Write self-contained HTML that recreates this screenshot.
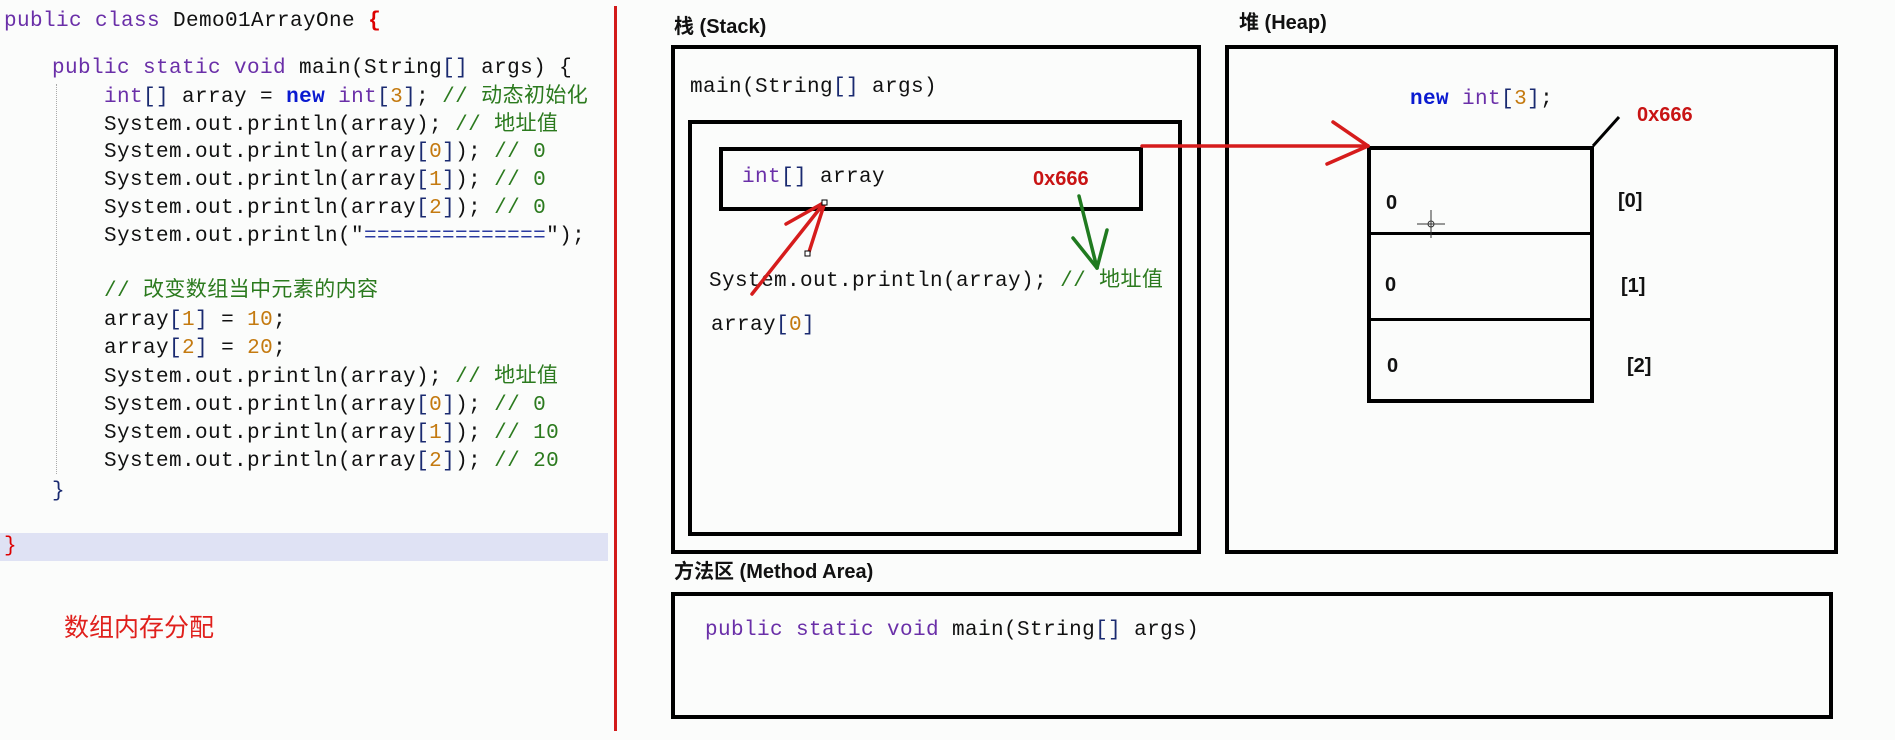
<!DOCTYPE html>
<html><head><meta charset="utf-8"><style>
html,body{margin:0;padding:0;}
body{width:1895px;height:740px;background:#fbfcfb;position:relative;overflow:hidden;font-family:"Liberation Mono","Noto Sans CJK SC",monospace;}
.t{position:absolute;white-space:pre;line-height:28px;height:28px;font-size:21px;letter-spacing:0.4px;color:#111;}
.k{color:#6a2fa8;}
.n{color:#0a1ad0;font-weight:bold;}
.num{color:#c47a10;}
.c{color:#2b7a1e;}
.b{color:#1a2a70;}
.box{position:absolute;border:4px solid #000;box-sizing:border-box;}
.h{position:absolute;font-family:"Liberation Sans","Noto Sans CJK SC",sans-serif;font-weight:bold;font-size:20px;line-height:24px;white-space:pre;color:#111;}
</style></head><body>
<div style="position:absolute;left:0;top:533px;width:608px;height:28px;background:#dfe2f4;"></div>
<div style="position:absolute;left:614px;top:6px;width:3px;height:725px;background:#d21a1a;"></div>
<div style="position:absolute;left:56px;top:84px;width:0;height:390px;border-left:1px dotted #aaa;"></div>

<div class="t" style="left:4px;top:8px"><span class="k">public class</span> Demo01ArrayOne <span style="color:#d00;font-weight:bold">{</span></div>
<div class="t" style="left:52px;top:55px"><span class="k">public static void</span> main(String<span class="b">[]</span> args) {</div>
<div class="t" style="left:104px;top:84px"><span class="k">int</span><span class="b">[]</span> array = <span class="n">new</span> <span class="k">int</span><span class="b">[</span><span class="num">3</span><span class="b">]</span>; <span class="c">// 动态初始化</span></div>
<div class="t" style="left:104px;top:112px">System.out.println(array); <span class="c">// 地址值</span></div>
<div class="t" style="left:104px;top:139px">System.out.println(array<span class="b">[</span><span class="num">0</span><span class="b">]</span>); <span class="c">// 0</span></div>
<div class="t" style="left:104px;top:167px">System.out.println(array<span class="b">[</span><span class="num">1</span><span class="b">]</span>); <span class="c">// 0</span></div>
<div class="t" style="left:104px;top:195px">System.out.println(array<span class="b">[</span><span class="num">2</span><span class="b">]</span>); <span class="c">// 0</span></div>
<div class="t" style="left:104px;top:223px">System.out.println("<span style="color:#2a3aa0">==============</span>");</div>
<div class="t" style="left:104px;top:278px"><span class="c">// 改变数组当中元素的内容</span></div>
<div class="t" style="left:104px;top:307px">array<span class="b">[</span><span class="num">1</span><span class="b">]</span> = <span class="num">10</span>;</div>
<div class="t" style="left:104px;top:335px">array<span class="b">[</span><span class="num">2</span><span class="b">]</span> = <span class="num">20</span>;</div>
<div class="t" style="left:104px;top:364px">System.out.println(array); <span class="c">// 地址值</span></div>
<div class="t" style="left:104px;top:392px">System.out.println(array<span class="b">[</span><span class="num">0</span><span class="b">]</span>); <span class="c">// 0</span></div>
<div class="t" style="left:104px;top:420px">System.out.println(array<span class="b">[</span><span class="num">1</span><span class="b">]</span>); <span class="c">// 10</span></div>
<div class="t" style="left:104px;top:448px">System.out.println(array<span class="b">[</span><span class="num">2</span><span class="b">]</span>); <span class="c">// 20</span></div>
<div class="t" style="left:52px;top:478px"><span class="b">}</span></div>
<div class="t" style="left:4px;top:533px;color:#d00">}</div>
<div class="t" style="left:64px;top:612px;font-family:'Liberation Sans','Noto Sans CJK SC',sans-serif;font-size:25px;line-height:32px;height:32px;color:#e0201c;letter-spacing:0">数组内存分配</div>

<!-- Stack -->
<div class="h" style="left:674px;top:15px">栈 (Stack)</div>
<div class="box" style="left:671px;top:45px;width:530px;height:509px"></div>
<div class="t" style="left:690px;top:74px">main(String<span class="b">[]</span> args)</div>
<div class="box" style="left:688px;top:120px;width:494px;height:416px"></div>
<div class="box" style="left:719px;top:147px;width:424px;height:64px"></div>
<div class="t" style="left:742px;top:164px"><span class="k">int</span><span class="b">[]</span> array</div>
<div class="h" style="left:1033px;top:167px;color:#c81414">0x666</div>
<div class="t" style="left:709px;top:268px">System.out.println(array); <span class="c">// 地址值</span></div>
<div class="t" style="left:711px;top:312px">array<span class="b">[</span><span class="num">0</span><span class="b">]</span></div>

<!-- Heap -->
<div class="h" style="left:1239px;top:11px">堆 (Heap)</div>
<div class="box" style="left:1225px;top:45px;width:613px;height:509px"></div>
<div class="t" style="left:1410px;top:86px"><span class="n">new</span> <span class="k">int</span><span class="b">[</span><span class="num">3</span><span class="b">]</span>;</div>
<div class="box" style="left:1367px;top:146px;width:227px;height:257px"></div>
<div style="position:absolute;left:1367px;top:232px;width:227px;height:3px;background:#000"></div>
<div style="position:absolute;left:1367px;top:318px;width:227px;height:3px;background:#000"></div>
<div class="h" style="left:1386px;top:191px">0</div>
<div class="h" style="left:1385px;top:273px">0</div>
<div class="h" style="left:1387px;top:354px">0</div>
<div class="h" style="left:1618px;top:189px">[0]</div>
<div class="h" style="left:1621px;top:274px">[1]</div>
<div class="h" style="left:1627px;top:354px">[2]</div>
<div class="h" style="left:1637px;top:103px;color:#c81414">0x666</div>

<!-- Method area -->
<div class="h" style="left:674px;top:560px">方法区 (Method Area)</div>
<div class="box" style="left:671px;top:592px;width:1162px;height:127px"></div>
<div class="t" style="left:705px;top:617px"><span class="k">public static void</span> main(String<span class="b">[]</span> args)</div>

<svg width="1895" height="740" style="position:absolute;left:0;top:0" xmlns="http://www.w3.org/2000/svg">
<g stroke="#d61c1c" stroke-width="3.5" fill="none" stroke-linecap="round">
<line x1="752" y1="294" x2="825" y2="202"/>
<line x1="825" y1="202" x2="786" y2="224"/>
<line x1="825" y1="202" x2="809" y2="252"/>
<line x1="1142" y1="146" x2="1368" y2="146"/>
<line x1="1368" y1="146" x2="1333" y2="122"/>
<line x1="1368" y1="146" x2="1327" y2="164"/>
</g>
<rect x="805" y="251" width="5" height="5" fill="#fff" stroke="#000" stroke-width="1"/>
<rect x="822" y="200" width="5" height="5" fill="#fff" stroke="#000" stroke-width="1"/>
<g stroke="#1f7a1f" stroke-width="3.5" fill="none" stroke-linecap="round">
<line x1="1079" y1="196" x2="1097" y2="268"/>
<line x1="1097" y1="268" x2="1073" y2="238"/>
<line x1="1097" y1="268" x2="1107" y2="230"/>
</g>
<line x1="1593" y1="146" x2="1619" y2="117" stroke="#000" stroke-width="3"/>
<g stroke="#333" stroke-width="1" fill="none">
<line x1="1417" y1="224" x2="1445" y2="224"/>
<line x1="1431" y1="210" x2="1431" y2="238"/>
<circle cx="1431" cy="224" r="3"/>
</g>
</svg>
</body></html>
